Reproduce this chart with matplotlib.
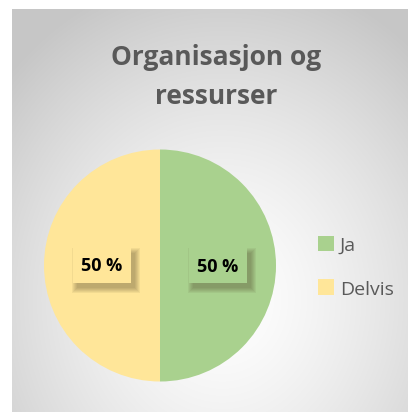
import numpy as np
import matplotlib.pyplot as plt
from matplotlib.patches import Rectangle
from matplotlib.transforms import IdentityTransform

# ------------------------------------------------------------
# Data
# ------------------------------------------------------------
labels = ["Ja", "Delvis"]
values = [50, 50]
colors = ["#A9D18E", "#FFE699"]
title = "Organisasjon og\nressurser"

W, H = 408, 414
font = "Open Sans"


def box(x, y, w, h):
    # pixel box (top-left origin) -> figure fraction
    return [x / W, 1 - (y + h) / H, w / W, h / H]


fig = plt.figure(figsize=(W / 100, H / 100), dpi=100)

# ------------------------------------------------------------
# Chart area background (radial gradient, white to grey)
# ------------------------------------------------------------
bg = fig.add_axes(box(12, 10, 396, 403))
yy, xx = np.mgrid[0:403, 0:396]
r = np.hypot((xx - 210) / 290.0, (yy - 290) / 330.0)
shade = 1.0 - 0.22 * np.clip(r, 0, 1) ** 1.4
bg.imshow(np.dstack([shade] * 3), aspect="auto", extent=(0, 1, 0, 1))
bg.set_axis_off()

# ------------------------------------------------------------
# Pie
# ------------------------------------------------------------
ax = fig.add_axes(box(44, 150, 232, 233))
ax.set_axis_off()
wedges, texts, autotexts = ax.pie(
    values,
    colors=colors,
    startangle=90,
    counterclock=False,
    autopct=lambda p: f"{p:.0f} %",
    pctdistance=0.5,
    wedgeprops=dict(linewidth=0),
    textprops=dict(fontsize=13, fontweight="bold", family=font, color="black"),
)
ax.set_xlim(-1, 1)
ax.set_ylim(-1, 1)

for t, c in zip(autotexts, colors):
    t.set_bbox(dict(boxstyle="square,pad=0.45", fc=c, ec="none"))
    t.set_zorder(5)

# soft shadow under each label box
fig.canvas.draw()
renderer = fig.canvas.get_renderer()
for t in autotexts:
    bb = t.get_bbox_patch().get_window_extent(renderer)
    for k in range(6):
        grow = 5 - k
        ax.add_patch(Rectangle(
            (bb.x0 + 4 - grow, bb.y0 - 5 - grow), bb.width + 2 * grow, bb.height + 2 * grow,
            transform=IdentityTransform(), fc=(0.3, 0.25, 0.15), ec="none",
            alpha=0.07, zorder=2, clip_on=False,
        ))

# ------------------------------------------------------------
# Title
# ------------------------------------------------------------
fig.text(216 / W, 1 - 77 / H, title, ha="center", va="center",
         fontsize=19, fontweight="bold", family=font, color="#595959",
         linespacing=1.55)

# ------------------------------------------------------------
# Legend
# ------------------------------------------------------------
fig.legend(
    wedges, labels,
    loc="upper left", bbox_to_anchor=(300 / W, 1 - 219 / H),
    frameon=False, handlelength=0.85, handleheight=0.85, handletextpad=0.3,
    labelspacing=1.3,
    prop=dict(family=font, size=14), labelcolor="#595959",
)

fig.savefig("out.png", dpi=100)
